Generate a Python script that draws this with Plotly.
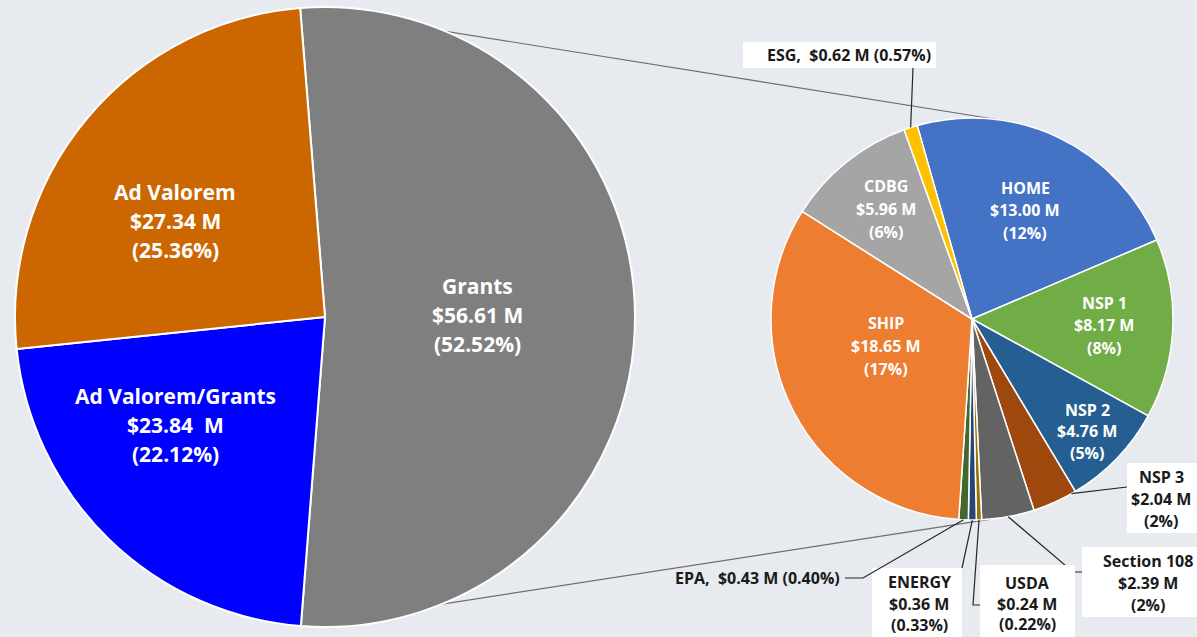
import math
import plotly.graph_objects as go

W, H = 1197, 637

# ---------------- data ----------------
left_labels = ["Grants", "Ad Valorem/Grants", "Ad Valorem"]
left_values = [56.61, 23.84, 27.34]
left_value_text = ["$56.61 M", "$23.84  M", "$27.34 M"]
left_pct_text = ["(52.52%)", "(22.12%)", "(25.36%)"]
left_colors = ["#7F7F7F", "#0000FF", "#CC6600"]

right_labels = ["HOME", "NSP 1", "NSP 2", "NSP 3", "Section 108", "USDA",
                "ENERGY", "EPA", "SHIP", "CDBG", "ESG"]
right_values = [13.00, 8.17, 4.76, 2.04, 2.39, 0.24, 0.36, 0.43, 18.65, 5.96, 0.62]
right_value_text = ["$13.00 M", "$8.17 M", "$4.76 M", "$2.04 M", "$2.39 M", "$0.24 M",
                    "$0.36 M", "$0.43 M", "$18.65 M", "$5.96 M", "$0.62 M"]
right_pct_text = ["(12%)", "(8%)", "(5%)", "(2%)", "(2%)", "(0.22%)",
                  "(0.33%)", "(0.40%)", "(17%)", "(6%)", "(0.57%)"]
right_colors = ["#4472C4", "#70AD47", "#255E91", "#9E480E", "#636363", "#997300",
                "#264478", "#43682B", "#ED7D31", "#A5A5A5", "#FFC000"]

# ---------------- layout geometry (pixels) ----------------
BG = "#E7EAEF"
FONT = "Open Sans"
L = dict(cx=325, cy=317, r=310, rot=-4.6)
R = dict(cx=972, cy=319, r=201, rot=-15.8)


def px(x):
    return x / W


def py(y):
    return 1 - y / H


def domain(g):
    return dict(x=[px(g["cx"] - g["r"]), px(g["cx"] + g["r"])],
                y=[py(g["cy"] + g["r"]), py(g["cy"] - g["r"])])


def edge(g, ang, rf=1.0):
    a = math.radians(ang)
    return (g["cx"] + rf * g["r"] * math.sin(a), g["cy"] - rf * g["r"] * math.cos(a))


def slice_angles(values, rot):
    tot = sum(values)
    out, cur = [], rot
    for v in values:
        span = 360 * v / tot
        out.append((cur, cur + span))
        cur += span
    return out


fig = go.Figure()
fig.add_trace(go.Pie(labels=left_labels, values=left_values, sort=False,
                     direction="clockwise", rotation=L["rot"], domain=domain(L),
                     marker=dict(colors=left_colors, line=dict(color="white", width=2)),
                     textinfo="none", hoverinfo="label+value", showlegend=False))
fig.add_trace(go.Pie(labels=right_labels, values=right_values, sort=False,
                     direction="clockwise", rotation=R["rot"], domain=domain(R),
                     marker=dict(colors=right_colors, line=dict(color="white", width=1.5)),
                     textinfo="none", hoverinfo="label+value", showlegend=False))

annotations = []
shapes = []


def text_lines(lines, x, ys, size, color, weight="bold"):
    for t, y in zip(lines, ys):
        annotations.append(dict(x=px(x), y=py(y), xref="paper", yref="paper", text=t,
                                showarrow=False, xanchor="center", yanchor="middle",
                                font=dict(family=FONT, size=size, color=color, weight=weight)))


# inside labels (pixel centre of middle line, line spacing)
left_inside = {"Grants": (477, 315, 29), "Ad Valorem/Grants": (175, 425, 29),
               "Ad Valorem": (175, 221, 29)}
for lab, v, p in zip(left_labels, left_value_text, left_pct_text):
    x, y, s = left_inside[lab]
    text_lines([lab, v, p], x, [y - s, y, y + s], 21, "white")

right_inside = {"HOME": (1025, 210, 22.5), "NSP 1": (1104, 325, 22.5),
                "NSP 2": (1087, 431, 21.5), "SHIP": (886, 346, 23),
                "CDBG": (886, 209, 22.5)}
for lab, v, p in zip(right_labels, right_value_text, right_pct_text):
    if lab in right_inside:
        x, y, s = right_inside[lab]
        text_lines([lab, v, p], x, [y - s, y, y + s], 16, "white")

# outside labels: box rect, text x, text ys, anchor position in slice (0..1), leader elbows
outside = {
    "ESG": dict(box=(743, 42, 936, 68), x=849, ys=[55], one_line=True, f=0.5,
                path=[(913, 68)]),
    "NSP 3": dict(box=(1127, 463, 1215, 533), x=1161, ys=[477, 499, 521], f=0.1,
                  path=[(1127, 487)]),
    "Section 108": dict(box=(1082, 547, 1214, 617), x=1148, ys=[561, 583, 605], f=0.5,
                        path=[(1073, 572), (1082, 572)]),
    "USDA": dict(box=(980, 565, 1075, 650), x=1027, ys=[583, 604, 624], f=0.5,
                 path=[(973, 605), (980, 605)]),
    "ENERGY": dict(box=(872, 568, 962, 650), x=919, ys=[582, 604, 625], f=0.5,
                   path=[(962, 568)]),
    "EPA": dict(box=None, x=757, ys=[578], one_line=True, f=0.5,
                path=[(863, 578), (845, 578)]),
}

r_angles = slice_angles(right_values, R["rot"])
for lab, v, p, (a0, a1) in zip(right_labels, right_value_text, right_pct_text, r_angles):
    if lab not in outside:
        continue
    o = outside[lab]
    if o["box"]:
        x0, y0, x1, y1 = o["box"]
        shapes.append(dict(type="rect", xref="paper", yref="paper", x0=px(x0), x1=px(x1),
                           y0=py(y1), y1=py(y0), fillcolor="white", line=dict(width=0),
                           layer="above"))
    if o.get("one_line"):
        text_lines([f"{lab},  {v} {p}"], o["x"], o["ys"], 16, "#1A1A1A")
    else:
        text_lines([lab, v, p], o["x"], o["ys"], 16, "#1A1A1A")
    pts = [edge(R, a0 + o["f"] * (a1 - a0))] + o["path"]
    d = "M " + " L ".join(f"{px(a):.5f},{py(b):.5f}" for a, b in pts)
    shapes.append(dict(type="path", xref="paper", yref="paper", path=d,
                       line=dict(color="#262626", width=1.2), layer="above"))

# connector lines between pies (from "Grants" slice edges)
l_angles = slice_angles(left_values, L["rot"])
g0, g1 = l_angles[0]
for la, ra in [(g0, 10.3), (g1, 174.6)]:
    (xa, ya), (xb, yb) = edge(L, la), edge(R, ra)
    shapes.append(dict(type="line", xref="paper", yref="paper", x0=px(xa), y0=py(ya),
                       x1=px(xb), y1=py(yb), line=dict(color="#6E6E6E", width=1.2),
                       layer="below"))

fig.update_layout(width=W, height=H, margin=dict(l=0, r=0, t=0, b=0),
                  paper_bgcolor=BG, plot_bgcolor=BG, showlegend=False,
                  annotations=annotations, shapes=shapes)

fig.write_html("out.html", config={"displayModeBar": False},
               post_script="document.body.style.margin='0';document.body.style.overflow='hidden';")
